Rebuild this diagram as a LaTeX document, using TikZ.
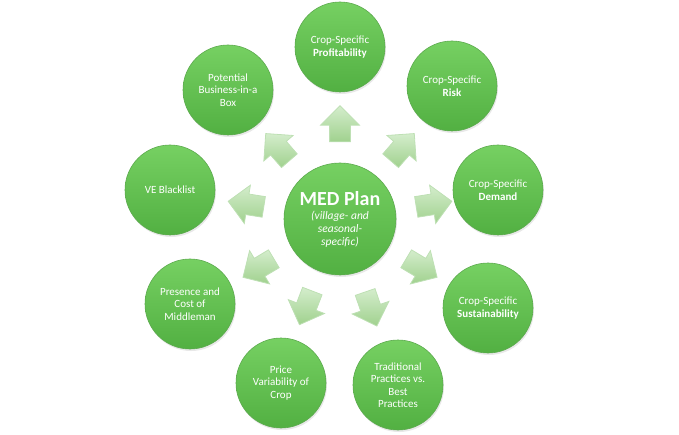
\documentclass[tikz,border=0pt]{standalone}
\usepackage{fontspec}
\setmainfont{Carlito}
\usetikzlibrary{shapes.arrows,shadows,calc}

\definecolor{ballTop}{RGB}{118,208,98}
\definecolor{ballBot}{RGB}{82,176,66}
\definecolor{ballRim}{RGB}{92,170,78}
\definecolor{arrLight}{RGB}{212,237,204}
\definecolor{arrDark}{RGB}{160,209,142}
\definecolor{arrRim}{RGB}{190,224,180}

\begin{document}
\begin{tikzpicture}[x=1pt,y=-1pt,
  ball/.style={circle,minimum size=90pt,inner sep=0pt,top color=ballTop,bottom color=ballBot,
    draw=ballRim,line width=0.6pt,text=white,align=center,font=\fontsize{11}{12.5}\selectfont,
    drop shadow={opacity=0.18,shadow xshift=1pt,shadow yshift=-2pt}},
  blockarr/.style={single arrow,minimum height=36pt,inner sep=10pt,
    single arrow head extend=9pt,top color=arrLight,bottom color=arrDark,draw=arrRim,line width=0.8pt}]
\useasboundingbox (0,0) rectangle (679,435);

% centre
\node [ball,minimum size=112pt,font=\fontsize{11.5}{13}\selectfont\itshape] (med) at (340,219)
  {{\fontsize{20}{23}\selectfont\bfseries\upshape MED Plan}\\[1pt](village- and\\seasonal-\\specific)};

% outer ring
\node [ball] (prof) at (340,47) {Crop-Specific\\\textbf{Profitability}};
\node [ball] (risk) at (452,86) {Crop-Specific\\\textbf{Risk}};
\node [ball] (dem) at (498,190) {Crop-Specific\\\textbf{Demand}};
\node [ball] (sust) at (488,308) {Crop-Specific\\\textbf{Sustainability}};
\node [ball] (trad) at (398,385) {Traditional\\Practices vs.\\Best\\Practices};
\node [ball] (price) at (281,383) {Price\\Variability of\\Crop};
\node [ball] (midd) at (190,304) {Presence and\\Cost of\\Middleman};
\node [ball] (vebl) at (170,190) {VE Blacklist};
\node [ball] (biz) at (228,90) {Potential\\Business-in-a\\Box};

% block arrows
\foreach \ang [count=\i] in {90,49,9,-31,-71,-111,-149,171,131}
  \node [blockarr,rotate=\ang] (arr\i) at ($(med)+(\ang:90pt)$) {};
\end{tikzpicture}
\end{document}
